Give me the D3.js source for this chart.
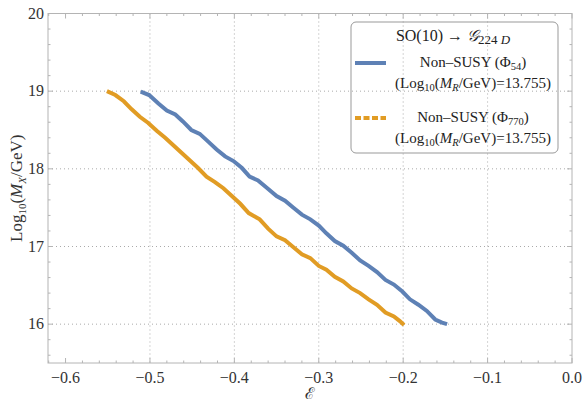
<!DOCTYPE html>
<html>
<head>
<meta charset="utf-8">
<script src="https://d3js.org/d3.v7.min.js"></script>
<style>
  body { margin: 0; background: #fff; }
  svg { font-family: 'Liberation Serif', 'DejaVu Serif', serif; }
  .tick-label { font-size: 16px; fill: #333; }
</style>
</head>
<body>
<svg id="chart" width="584" height="404"></svg>
<script>
// series
const eps54 = [-0.511, -0.501, -0.490, -0.480, -0.470, -0.461, -0.451, -0.441, -0.431, -0.421,
  -0.411, -0.401, -0.391, -0.382, -0.372, -0.362, -0.350, -0.340, -0.330, -0.320,
  -0.310, -0.300, -0.291, -0.281, -0.271, -0.261, -0.251, -0.241, -0.231, -0.221,
  -0.211, -0.201, -0.192, -0.182, -0.172, -0.162, -0.154, -0.148];
const mx54 = [18.995, 18.95, 18.84, 18.75, 18.70, 18.61, 18.50, 18.45, 18.35, 18.25,
  18.16, 18.10, 18.01, 17.90, 17.85, 17.76, 17.65, 17.59, 17.50, 17.41,
  17.35, 17.27, 17.17, 17.07, 17.01, 16.92, 16.82, 16.75, 16.67, 16.57,
  16.51, 16.42, 16.32, 16.25, 16.17, 16.06, 16.02, 16.00];

const eps770 = [-0.551, -0.541, -0.531, -0.522, -0.512, -0.502, -0.492, -0.482, -0.472, -0.462,
  -0.452, -0.443, -0.433, -0.423, -0.413, -0.403, -0.393, -0.383, -0.370, -0.360,
  -0.350, -0.340, -0.330, -0.320, -0.310, -0.300, -0.291, -0.281, -0.271, -0.261,
  -0.251, -0.241, -0.231, -0.221, -0.211, -0.204, -0.199];
const mx770 = [19.00, 18.95, 18.87, 18.77, 18.67, 18.59, 18.49, 18.40, 18.30, 18.20,
  18.10, 18.01, 17.90, 17.83, 17.75, 17.65, 17.55, 17.43, 17.35, 17.23,
  17.13, 17.08, 16.99, 16.90, 16.85, 16.75, 16.70, 16.61, 16.55, 16.46,
  16.40, 16.32, 16.25, 16.15, 16.10, 16.04, 15.99];

const xTicks = [-0.6, -0.5, -0.4, -0.3, -0.2, -0.1, 0.0];
const yTicks = [16, 17, 18, 19, 20];
const xGrid = [-0.5, -0.4, -0.3, -0.2, -0.1];
const yGrid = [16, 17, 18, 19];

const blue = '#5e81b5';
const orange = '#e19c24';
const frameColor = '#b4b4b4';

const svg = d3.select('#chart');
const pLeft = 48, pRight = 572, pTop = 13.5, pBottom = 363;

const x = d3.scaleLinear().domain([-0.6208, 0]).range([pLeft, pRight]);
const y = d3.scaleLinear().domain([15.5, 20]).range([pBottom, pTop]);

// grid
svg.append('g').selectAll('line').data(xGrid).join('line')
  .attr('x1', d => x(d)).attr('x2', d => x(d))
  .attr('y1', pTop).attr('y2', pBottom)
  .attr('stroke', '#aaa').attr('stroke-width', 1)
  .attr('stroke-dasharray', '1,3');
svg.append('g').selectAll('line').data(yGrid).join('line')
  .attr('x1', pLeft).attr('x2', pRight)
  .attr('y1', d => y(d)).attr('y2', d => y(d))
  .attr('stroke', '#aaa').attr('stroke-width', 1)
  .attr('stroke-dasharray', '1,3');

// frame with inward ticks (Mathematica style)
const frame = svg.append('g');
frame.append('rect')
  .attr('x', pLeft).attr('y', pTop)
  .attr('width', pRight - pLeft).attr('height', pBottom - pTop)
  .attr('fill', 'none').attr('stroke', frameColor).attr('stroke-width', 1);

const xMinor = d3.range(-62, 1, 2).map(d => d / 100);
const yMinor = d3.range(156, 201, 2).map(d => d / 10);
xMinor.forEach(d => {
  const major = Math.abs(Math.round(d * 10) - d * 10) < 1e-6;
  const len = major ? 5 : 2.5;
  frame.append('line').attr('x1', x(d)).attr('x2', x(d))
    .attr('y1', pBottom).attr('y2', pBottom - len).attr('stroke', frameColor);
  frame.append('line').attr('x1', x(d)).attr('x2', x(d))
    .attr('y1', pTop).attr('y2', pTop + len).attr('stroke', frameColor);
});
yMinor.forEach(d => {
  const major = Math.abs(Math.round(d) - d) < 1e-6;
  const len = major ? 5 : 2.5;
  frame.append('line').attr('y1', y(d)).attr('y2', y(d))
    .attr('x1', pLeft).attr('x2', pLeft + len).attr('stroke', frameColor);
  frame.append('line').attr('y1', y(d)).attr('y2', y(d))
    .attr('x1', pRight).attr('x2', pRight - len).attr('stroke', frameColor);
});

// tick labels
svg.append('g').selectAll('text').data(xTicks).join('text')
  .attr('class', 'tick-label')
  .attr('x', d => x(d)).attr('y', pBottom + 20)
  .attr('text-anchor', 'middle')
  .text(d => d === 0 ? '0.0' : '\u2212' + Math.abs(d).toFixed(1));
svg.append('g').selectAll('text').data(yTicks).join('text')
  .attr('class', 'tick-label')
  .attr('x', pLeft - 4).attr('y', d => y(d) + 5)
  .attr('text-anchor', 'end')
  .text(d => d);

// axis labels
svg.append('text')
  .attr('x', x(-0.31)).attr('y', 399)
  .attr('text-anchor', 'middle')
  .style('font-size', '16px').style('fill', '#333')
  .text('\u2130');

const yl = svg.append('text')
  .attr('transform', `translate(22,${(pTop + pBottom) / 2}) rotate(-90)`)
  .attr('text-anchor', 'middle')
  .style('font-size', '17px').style('fill', '#333');
yl.append('tspan').text('Log');
yl.append('tspan').attr('dy', 4).style('font-size', '11px').text('10');
yl.append('tspan').attr('dy', -4).text('(');
yl.append('tspan').style('font-style', 'italic').text('M');
yl.append('tspan').attr('dy', 4).style('font-size', '11px').style('font-style', 'italic').text('X');
yl.append('tspan').attr('dy', -4).text('/GeV)');

// curves
const line = d3.line().x(d => x(d[0])).y(d => y(d[1]));
svg.append('path')
  .datum(d3.zip(eps770, mx770))
  .attr('d', line)
  .attr('fill', 'none').attr('stroke', orange).attr('stroke-width', 4);
svg.append('path')
  .datum(d3.zip(eps54, mx54))
  .attr('d', line)
  .attr('fill', 'none').attr('stroke', blue).attr('stroke-width', 4);

// legend
const lg = svg.append('g');
lg.append('rect')
  .attr('x', 351).attr('y', 22).attr('width', 207).attr('height', 131)
  .attr('rx', 5).attr('fill', 'none')
  .attr('stroke', '#999').attr('stroke-width', 1);

const title = lg.append('text').attr('x', 453).attr('y', 41)
  .attr('text-anchor', 'middle').style('font-size', '16px').style('fill', '#222');
title.append('tspan').text('SO(10) \u2192 ');
title.append('tspan').style('font-style', 'italic').text('\ud835\udca2');
title.append('tspan').attr('dy', 3).style('font-size', '13px').text('224 ');
title.append('tspan').style('font-size', '13px').style('font-style', 'italic').text('D');

const entries = [
  { color: orange, dash: '6,2.5', sub: '770', y: 118 },
  { color: blue, dash: null, sub: '54', y: 63 }
];
entries.forEach(e => {
  lg.append('line')
    .attr('x1', 355).attr('x2', 386).attr('y1', e.y).attr('y2', e.y)
    .attr('stroke', e.color).attr('stroke-width', 4)
    .attr('stroke-dasharray', e.dash);
  const t1 = lg.append('text').attr('x', 473).attr('y', e.y + 4)
    .attr('text-anchor', 'middle').style('font-size', '15px').style('fill', '#222');
  t1.append('tspan').text('Non\u2013SUSY (\u03a6');
  t1.append('tspan').attr('dy', 3).style('font-size', '10.5px').text(e.sub);
  t1.append('tspan').attr('dy', -3).text(')');
  const t2 = lg.append('text').attr('x', 473).attr('y', e.y + 25)
    .attr('text-anchor', 'middle').style('font-size', '15px').style('fill', '#222');
  t2.append('tspan').text('(Log');
  t2.append('tspan').attr('dy', 3).style('font-size', '10.5px').text('10');
  t2.append('tspan').attr('dy', -3).text('(');
  t2.append('tspan').style('font-style', 'italic').text('M');
  t2.append('tspan').attr('dy', 3).style('font-size', '10.5px').style('font-style', 'italic').text('R');
  t2.append('tspan').attr('dy', -3).text('/GeV)=13.755)');
});
</script>
</body>
</html>
